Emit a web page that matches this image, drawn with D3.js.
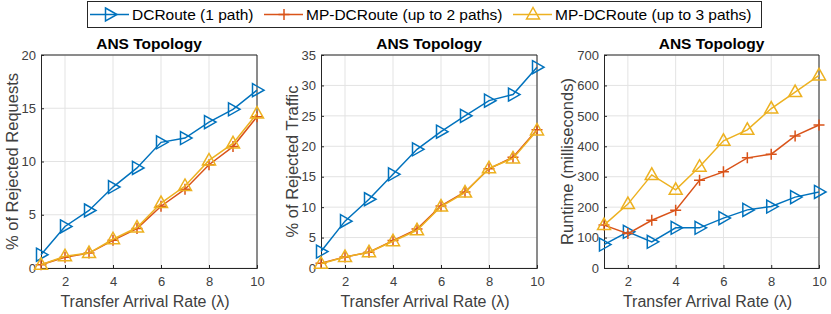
<!DOCTYPE html>
<html>
<head>
<meta charset="utf-8">
<script src="https://cdn.jsdelivr.net/npm/d3@7"></script>
<style>
  body { margin: 0; background: #fff; }
  svg { font-family: "Liberation Sans", Arial, sans-serif; }
</style>
</head>
<body>
<div id="chart"></div>
<script>
// data
var rates = [1, 2, 3, 4, 5, 6, 7, 8, 9, 10];
var seriesNames = ["DCRoute (1 path)", "MP-DCRoute (up to 2 paths)", "MP-DCRoute (up to 3 paths)"];
var seriesColors = ["#0072BD", "#D95319", "#EDB120"];
var seriesMarkers = ["tri-right", "plus", "tri-up"];

var reqDC = [1.25, 3.9, 5.4, 7.6, 9.4, 11.8, 12.2, 13.7, 14.9, 16.7];
var reqMP2 = [0.3, 1.0, 1.4, 2.6, 3.7, 5.8, 7.4, 9.7, 11.4, 14.2];
var reqMP3 = [0.3, 1.1, 1.4, 2.7, 3.8, 6.1, 7.7, 10.1, 11.7, 14.5];

var trafDC = [2.7, 7.7, 11.3, 15.4, 19.5, 22.4, 25.0, 27.5, 28.5, 33.0];
var trafMP2 = [0.8, 1.8, 2.6, 4.5, 6.4, 10.2, 12.5, 16.3, 18.2, 22.7];
var trafMP3 = [0.7, 1.8, 2.6, 4.4, 6.2, 10.1, 12.4, 16.4, 18.0, 22.6];

var runDC = [77, 119, 86, 132, 132, 164, 191, 202, 233, 250];
var runMP2 = [141, 113, 157, 190, 288, 316, 362, 374, 434, 470];
var runMP3 = [141, 210, 306, 257, 333, 418, 454, 524, 578, 633];

var xTicks = [2, 4, 6, 8, 10];
var panels = [
  { left: 41, right: 257, ymax: 20, yticks: [0, 5, 10, 15, 20], ylabel: "% of Rejected Requests", data: [reqDC, reqMP2, reqMP3] },
  { left: 321, right: 537, ymax: 35, yticks: [0, 5, 10, 15, 20, 25, 30, 35], ylabel: "% of Rejected Traffic", data: [trafDC, trafMP2, trafMP3] },
  { left: 604, right: 819, ymax: 700, yticks: [0, 100, 200, 300, 400, 500, 600, 700], ylabel: "Runtime (milliseconds)", data: [runDC, runMP2, runMP3] }
];

var W = 831, H = 314, plotTop = 55, plotBottom = 268;
var svg = d3.select("#chart").append("svg").attr("width", W).attr("height", H);

function drawMarker(g, type, color) {
  if (type == "tri-right") {
    g.append("path").attr("d", "M-4.5,-6.5L7,0L-4.5,6.5Z")
      .attr("fill", "none").attr("stroke", color).attr("stroke-width", 1.5);
  } else if (type == "tri-up") {
    g.append("path").attr("d", "M-6.5,4.5L0,-7L6.5,4.5Z")
      .attr("fill", "none").attr("stroke", color).attr("stroke-width", 1.5);
  } else {
    g.append("path").attr("d", "M-5.5,0H5.5M0,-5.5V5.5")
      .attr("fill", "none").attr("stroke", color).attr("stroke-width", 1.5);
  }
}

panels.forEach(function (p) {
  var x = d3.scaleLinear().domain([1, 10]).range([p.left, p.right]);
  var y = d3.scaleLinear().domain([0, p.ymax]).range([plotBottom, plotTop]);
  var g = svg.append("g");

  // grid
  g.selectAll(".gx").data(xTicks).enter().append("line")
    .attr("x1", function (d) { return x(d); }).attr("x2", function (d) { return x(d); })
    .attr("y1", plotTop).attr("y2", plotBottom)
    .attr("stroke", "#e3e3e3").attr("stroke-width", 1);
  g.selectAll(".gy").data(p.yticks).enter().append("line")
    .attr("x1", p.left).attr("x2", p.right)
    .attr("y1", function (d) { return y(d); }).attr("y2", function (d) { return y(d); })
    .attr("stroke", "#e3e3e3").attr("stroke-width", 1);

  // axes, ticks pointing inward like matlab
  var xa = g.append("g").attr("transform", "translate(0," + plotBottom + ")")
    .call(d3.axisBottom(x).tickValues(xTicks).tickSize(-3).tickPadding(9));
  var ya = g.append("g").attr("transform", "translate(" + p.left + ",0)")
    .call(d3.axisLeft(y).tickValues(p.yticks).tickSize(-3).tickPadding(5));
  [xa, ya].forEach(function (a) {
    a.select(".domain").attr("stroke", "#262626");
    a.selectAll(".tick line").attr("stroke", "#262626");
    a.selectAll("text").attr("fill", "#404040").style("font-size", "13px")
      .style("font-family", "'Liberation Sans', Arial, sans-serif");
  });
  // box
  g.append("path").attr("d", "M" + p.left + "," + plotTop + "H" + p.right + "V" + plotBottom)
    .attr("fill", "none").attr("stroke", "#262626").attr("stroke-width", 1);

  // series
  p.data.forEach(function (vals, i) {
    var line = d3.line().x(function (d, j) { return x(rates[j]); }).y(function (d) { return y(d); });
    g.append("path").datum(vals).attr("d", line)
      .attr("fill", "none").attr("stroke", seriesColors[i]).attr("stroke-width", 1.5);
    vals.forEach(function (v, j) {
      var m = g.append("g").attr("transform", "translate(" + x(rates[j]) + "," + y(v) + ")");
      drawMarker(m, seriesMarkers[i], seriesColors[i]);
    });
  });

  // labels
  g.append("text").attr("x", (p.left + p.right) / 2).attr("y", 49)
    .attr("text-anchor", "middle").style("font-size", "15.5px").style("font-weight", "bold")
    .attr("fill", "#000").text("ANS Topology");
  g.append("text").attr("x", (p.left + p.right) / 2 - 4).attr("y", 307)
    .attr("text-anchor", "middle").style("font-size", "16px").attr("fill", "#404040")
    .text("Transfer Arrival Rate (\u03bb)");
  // y label sits just left of the widest tick label
  var tickLeft = d3.min(ya.selectAll(".tick text").nodes(), function (n) { return n.getBBox().x; }) + p.left;
  g.append("text")
    .attr("transform", "translate(" + (tickLeft - 4) + "," + ((plotTop + plotBottom) / 2) + ") rotate(-90)")
    .attr("text-anchor", "middle").style("font-size", "16.5px").attr("fill", "#404040")
    .text(p.ylabel);
});

// legend
var leg = svg.append("g");
leg.append("rect").attr("x", 87.5).attr("y", 1.5).attr("width", 674).attr("height", 26)
  .attr("fill", "#fff").attr("stroke", "#262626").attr("stroke-width", 1);
var legX = [90, 264, 513];
seriesNames.forEach(function (name, i) {
  var lx = legX[i];
  leg.append("line").attr("x1", lx).attr("x2", lx + 39).attr("y1", 14.5).attr("y2", 14.5)
    .attr("stroke", seriesColors[i]).attr("stroke-width", 1.5);
  var m = leg.append("g").attr("transform", "translate(" + (lx + 20) + ",14.5)");
  drawMarker(m, seriesMarkers[i], seriesColors[i]);
  leg.append("text").attr("x", lx + 42).attr("y", 20).style("font-size", "15.5px")
    .attr("fill", "#000").text(name);
});
</script>
</body>
</html>
